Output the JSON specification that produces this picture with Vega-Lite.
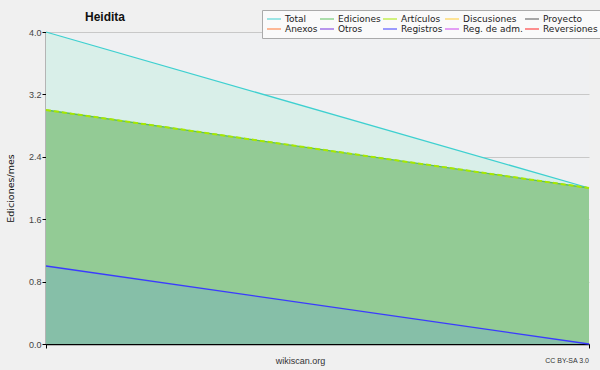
{
  "$schema": "https://vega.github.io/schema/vega-lite/v6.json",
  "autosize": "none",
  "width": 543,
  "height": 312,
  "padding": {"left": 46, "top": 32, "right": 11, "bottom": 26},
  "background": "#f0f0f0",
  "title": {"text": "Heidita", "anchor": "start", "frame": "group", "dx": 39, "offset": -14, "font": "Liberation Sans", "fontSize": 12, "fontWeight": "bold", "color": "#111"},
  "config": {
    "view": {"fill": "#eff0f2", "stroke": null},
    "font": "DejaVu Sans"
  },
  "datasets": {
    "series": [
      {"serie": "Total", "t": 0, "v": 4.0},
      {"serie": "Total", "t": 1, "v": 2.0},
      {"serie": "Ediciones", "t": 0, "v": 3.0},
      {"serie": "Ediciones", "t": 1, "v": 2.0},
      {"serie": "Artículos", "t": 0, "v": 3.0},
      {"serie": "Artículos", "t": 1, "v": 2.0},
      {"serie": "Registros", "t": 0, "v": 1.0},
      {"serie": "Registros", "t": 1, "v": 0.0}
    ],
    "credit": [{"t": 1, "v": 0, "label": "CC BY-SA 3.0"}]
  },
  "layer": [
    {
      "data": {"name": "series"},
      "transform": [{"filter": "datum.serie == 'Total'"}],
      "mark": {"type": "area", "color": "#d9efe9"},
      "encoding": {
        "x": {"field": "t", "type": "quantitative", "scale": {"domain": [0, 1], "nice": false},
          "axis": {"values": [0, 1], "labels": false, "grid": false, "domainColor": "#000", "domainWidth": 1.5, "tickColor": "#000", "tickSize": 4, "title": "wikiscan.org", "titleFont": "Liberation Sans", "titleFontSize": 9, "titleFontWeight": "normal", "titleColor": "#333", "titlePadding": 8, "titleX": 254}},
        "y": {"field": "v", "type": "quantitative", "scale": {"domain": [0, 4], "nice": false},
          "axis": {"values": [0, 0.2, 0.4, 0.6, 0.8, 1.0, 1.2, 1.4, 1.6, 1.8, 2.0, 2.2, 2.4, 2.6, 2.8, 3.0, 3.2, 3.4, 3.6, 3.8, 4.0],
            "labelExpr": "(round(datum.value*10) % 8 == 0) ? format(datum.value, '.1f') : ''",
            "gridOpacity": {"condition": {"test": "round(datum.value*10) % 8 == 0", "value": 1}, "value": 0},
            "gridColor": "#c8c8c8", "domainColor": "#000", "domainWidth": 1.5, "tickColor": "#000", "tickSize": 4,
            "labelFont": "Liberation Sans", "labelFontSize": 9, "labelColor": "#444", "labelPadding": 1,
            "title": "Ediciones/mes", "titleFontSize": 9.5, "titleFontWeight": "normal", "titleColor": "#111", "titlePadding": 13}}
      }
    },
    {
      "data": {"name": "series"},
      "transform": [{"filter": "datum.serie == 'Ediciones'"}],
      "mark": {"type": "area", "color": "#93cb95"},
      "encoding": {"x": {"field": "t", "type": "quantitative"}, "y": {"field": "v", "type": "quantitative"}}
    },
    {
      "data": {"name": "series"},
      "transform": [{"filter": "datum.serie == 'Registros'"}],
      "mark": {"type": "area", "color": "#86bfa8"},
      "encoding": {"x": {"field": "t", "type": "quantitative"}, "y": {"field": "v", "type": "quantitative"}}
    },
    {
      "data": {"name": "series"},
      "transform": [{"filter": "datum.serie != 'Artículos'"}],
      "mark": {"type": "line", "strokeWidth": 1.3},
      "encoding": {
        "x": {"field": "t", "type": "quantitative"},
        "y": {"field": "v", "type": "quantitative"},
        "detail": {"field": "serie"},
        "color": {"field": "serie", "type": "nominal",
          "scale": {"domain": ["Total", "Ediciones", "Artículos", "Discusiones", "Proyecto", "Anexos", "Otros", "Registros", "Reg. de adm.", "Reversiones"],
            "range": ["#3ed0d0", "#5cbf5c", "#a8e800", "#ffcc33", "#555555", "#ff7733", "#7733dd", "#3a3aff", "#cc44ee", "#ff2222"]},
          "legend": {"title": null, "orient": "none", "legendX": 216, "legendY": -22, "direction": "horizontal", "columns": 5,
            "symbolType": "stroke", "symbolSize": 196, "symbolStrokeWidth": 1.2, "labelFont": "DejaVu Sans", "labelFontSize": 9, "labelColor": "#222",
            "clipHeight": 10, "padding": 4, "strokeColor": "#aaaaaa", "fillColor": "#fafafa", "rowPadding": 0, "columnPadding": 1, "labelOffset": 3}}
      }
    },
    {
      "data": {"name": "series"},
      "transform": [{"filter": "datum.serie == 'Artículos'"}],
      "mark": {"type": "line", "strokeWidth": 2, "strokeDash": [5, 3], "color": "#a8e800"},
      "encoding": {"x": {"field": "t", "type": "quantitative"}, "y": {"field": "v", "type": "quantitative"}}
    },
    {
      "data": {"name": "credit"},
      "mark": {"type": "text", "align": "right", "baseline": "middle", "dy": 17, "font": "Liberation Sans", "fontSize": 7, "color": "#333"},
      "encoding": {"x": {"field": "t", "type": "quantitative"}, "y": {"field": "v", "type": "quantitative"}, "text": {"field": "label"}}
    }
  ]
}
